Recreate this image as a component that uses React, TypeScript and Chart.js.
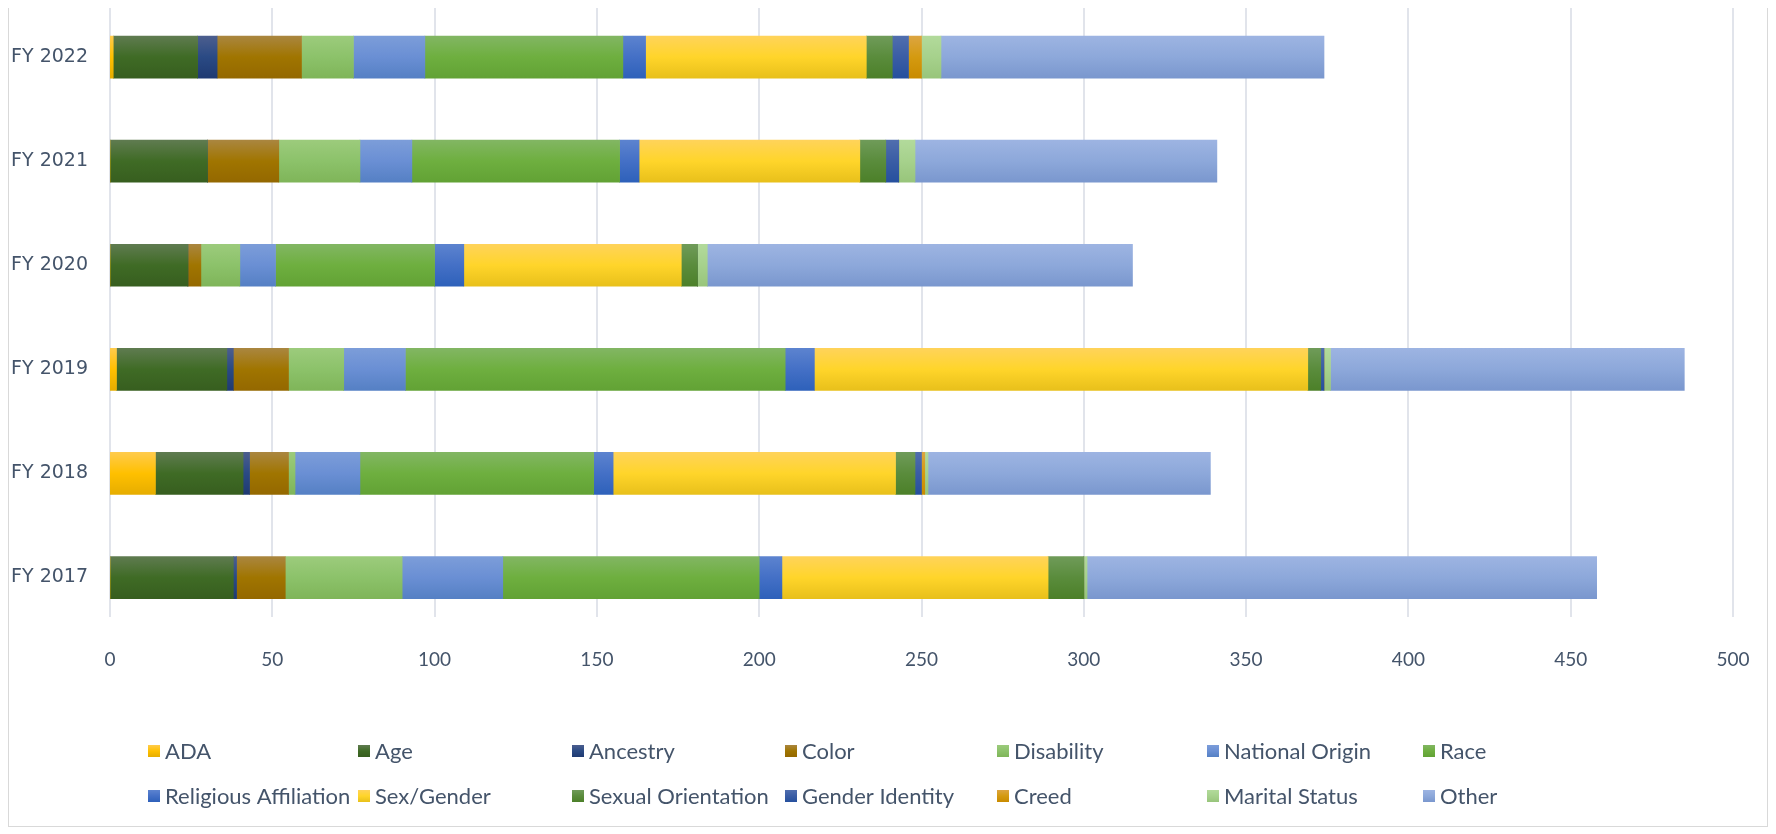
import React, { useEffect, useRef } from "react";
import { Chart, registerables } from "chart.js";

Chart.register(...registerables);

const categories = ["FY 2022", "FY 2021", "FY 2020", "FY 2019", "FY 2018", "FY 2017"];

const seriesNames = [
  "ADA", "Age", "Ancestry", "Color", "Disability", "National Origin", "Race",
  "Religious Affiliation", "Sex/Gender", "Sexual Orientation", "Gender Identity",
  "Creed", "Marital Status", "Other",
];

// values per category, order: FY 2022 .. FY 2017
const ada = [1, 0, 0, 2, 14, 0];
const age = [26, 30, 24, 34, 27, 38];
const ancestry = [6, 0, 0, 2, 2, 1];
const color = [26, 22, 4, 17, 12, 15];
const disability = [16, 25, 12, 17, 2, 36];
const nationalOrigin = [22, 16, 11, 19, 20, 31];
const race = [61, 64, 49, 117, 72, 79];
const religiousAffiliation = [7, 6, 9, 9, 6, 7];
const sexGender = [68, 68, 67, 152, 87, 82];
const sexualOrientation = [8, 8, 5, 4, 6, 11];
const genderIdentity = [5, 4, 0, 1, 2, 0];
const creed = [4, 0, 0, 0, 1, 0];
const maritalStatus = [6, 5, 3, 2, 1, 1];
const other = [118, 93, 131, 109, 87, 157];

const xTicks = [0, 50, 100, 150, 200, 250, 300, 350, 400, 450, 500];

const seriesValues = [
  ada, age, ancestry, color, disability, nationalOrigin, race,
  religiousAffiliation, sexGender, sexualOrientation, genderIdentity,
  creed, maritalStatus, other,
];

// [top, middle, bottom] gradient colours
const seriesColors: string[][] = [
  ["#FFCB4C", "#FFC000", "#E6AD00"],
  ["#5F7B50", "#3F6B25", "#375E1F"],
  ["#4C5E8E", "#2A4A84", "#1F3A72"],
  ["#AA863F", "#A07500", "#946800"],
  ["#9CCB7C", "#8CC26A", "#7FB559"],
  ["#7C9DD9", "#6A8FD4", "#5580C4"],
  ["#82B663", "#6EAF3F", "#62A235"],
  ["#5C83CF", "#4470C6", "#2E61BA"],
  ["#FFD35A", "#FFD52A", "#E8C01B"],
  ["#6F9B59", "#5A8C3C", "#4C8029"],
  ["#506EAE", "#3A5DA5", "#26509E"],
  ["#DCA541", "#D49A10", "#C98B00"],
  ["#B2DA9B", "#A6D18C", "#98C57B"],
  ["#9DB4E2", "#8DA8DA", "#7A97CE"],
];

const TEXT = "#44546A";
const GRID = "#E1E4EB";
const BAR_THICKNESS = 42;
const LEGEND_COLS = [139, 349, 563, 776, 988, 1198, 1414];
const LEGEND_ROWS = [751, 796];
const GRID_TOP = 6;
const GRID_BOTTOM = 617;

function makeGradient(ctx: CanvasRenderingContext2D, top: number, bottom: number, c: string[]) {
  const g = ctx.createLinearGradient(0, top, 0, bottom);
  g.addColorStop(0, c[0]);
  g.addColorStop(0.5, c[1]);
  g.addColorStop(1, c[2]);
  return g;
}

const gridPlugin = {
  id: "customGrid",
  beforeDatasetsDraw(chart: any) {
    const ctx: CanvasRenderingContext2D = chart.ctx;
    const xs = chart.scales.x;
    ctx.save();
    ctx.strokeStyle = GRID;
    ctx.lineWidth = 2;
    xTicks.forEach((v) => {
      const x = Math.round(xs.getPixelForValue(v));
      ctx.beginPath();
      ctx.moveTo(x, GRID_TOP);
      ctx.lineTo(x, GRID_BOTTOM);
      ctx.stroke();
    });
    ctx.restore();
  },
};

const legendPlugin = {
  id: "gridLegend",
  afterDraw(chart: any) {
    const ctx: CanvasRenderingContext2D = chart.ctx;
    ctx.save();
    ctx.font = "22px Lato";
    ctx.textBaseline = "middle";
    ctx.textAlign = "left";
    chart.data.datasets.forEach((ds: any, i: number) => {
      const col = i % 7;
      const row = Math.floor(i / 7);
      const x = LEGEND_COLS[col];
      const y = LEGEND_ROWS[row];
      ctx.fillStyle = makeGradient(ctx, y - 6, y + 6, seriesColors[i]);
      ctx.fillRect(x, y - 6, 12, 12);
      ctx.fillStyle = TEXT;
      ctx.fillText(ds.label, x + 17, y + 1);
    });
    ctx.restore();
  },
};

export default function App() {
  const ref = useRef<HTMLCanvasElement>(null);

  useEffect(() => {
    if (!ref.current) return;
    const datasets = seriesNames.map((name, i) => ({
      label: name,
      data: seriesValues[i],
      barThickness: BAR_THICKNESS,
      borderWidth: 0,
      backgroundColor: (c: any) => {
        const chart = c.chart;
        const yScale = chart.scales?.y;
        if (!chart.chartArea || !yScale || c.dataIndex === undefined) return seriesColors[i][1];
        const center = yScale.getPixelForValue(c.dataIndex);
        return makeGradient(chart.ctx, center - BAR_THICKNESS / 2, center + BAR_THICKNESS / 2, seriesColors[i]);
      },
    }));

    const chart = new Chart(ref.current, {
      type: "bar",
      data: { labels: categories, datasets },
      plugins: [gridPlugin, legendPlugin],
      options: {
        indexAxis: "y",
        animation: false,
        responsive: true,
        maintainAspectRatio: false,
        layout: { padding: { top: 5, right: 34, bottom: 146.4, left: 0 } },
        plugins: {
          legend: { display: false },
          tooltip: { enabled: false },
        },
        scales: {
          x: {
            stacked: true,
            min: 0,
            max: 500,
            afterBuildTicks: (s: any) => {
              s.ticks = xTicks.map((v) => ({ value: v }));
            },
            afterFit: (s: any) => {
              s.height = 50;
              s.paddingLeft = 0;
              s.paddingRight = 0;
            },
            ticks: {
              color: TEXT,
              font: { family: "Lato", size: 19 },
              padding: 19,
            },
            grid: { display: false, drawTicks: false },
            border: { display: false },
          },
          y: {
            stacked: true,
            afterFit: (s: any) => {
              s.width = 101;
              s.paddingTop = 0;
              s.paddingBottom = 0;
            },
            ticks: {
              color: TEXT,
              font: { family: "DejaVu Sans", size: 19 },
              padding: 22,
            },
            grid: { display: false, drawTicks: false },
            border: { display: false },
          },
        },
      },
    });
    return () => chart.destroy();
  }, []);

  return (
    <div
      style={{
        marginTop: -8,
        width: 1760,
        height: 827,
        borderLeft: "1px solid #D9D9D9",
        borderRight: "1px solid #D9D9D9",
        borderBottom: "1px solid #D9D9D9",
        boxSizing: "border-box",
        background: "#FFFFFF",
      }}
    >
      <div style={{ position: "relative", width: 1758, height: 826 }}>
        <canvas ref={ref} />
      </div>
    </div>
  );
}
